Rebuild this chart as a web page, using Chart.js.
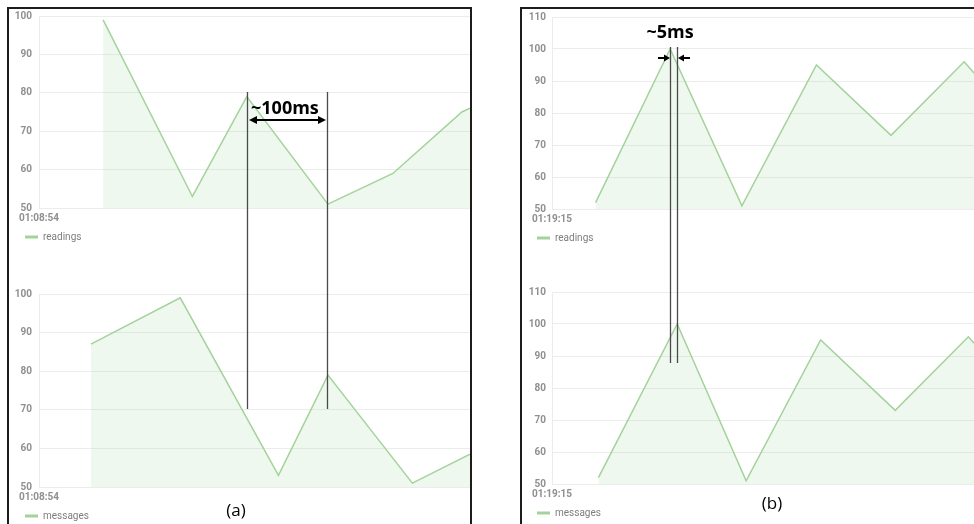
<!DOCTYPE html>
<html>
<head>
<meta charset="utf-8">
<script src="https://cdn.jsdelivr.net/npm/chart.js@4.4.1/dist/chart.umd.min.js"></script>
<style>
  body { margin: 0; background: #fff; width: 974px; height: 524px; position: relative; overflow: hidden; }
  canvas { position: absolute; }
  .panel { position: absolute; border: 2px solid #1c1c1c; border-bottom: none; }
  svg { position: absolute; left: 0; top: 0; }
</style>
</head>
<body>
<canvas id="readingsA" width="458" height="249" style="left:12px;top:3px"></canvas>
<canvas id="messagesA" width="458" height="250" style="left:12px;top:281px"></canvas>
<canvas id="readingsB" width="448" height="248" style="left:526px;top:5px"></canvas>
<canvas id="messagesB" width="448" height="248" style="left:526px;top:280px"></canvas>
<div class="panel" style="left:7px;top:7px;width:461px;height:530px"></div>
<div class="panel" style="left:520px;top:7px;width:470px;height:530px"></div>

<svg width="974" height="524">
  <g stroke="#4a4a4a" stroke-width="1.3">
    <line x1="247.5" y1="92" x2="247.5" y2="409"/>
    <line x1="327.5" y1="92" x2="327.5" y2="409"/>
    <line x1="670.5" y1="47" x2="670.5" y2="363"/>
    <line x1="677.5" y1="47" x2="677.5" y2="363"/>
  </g>
  <g stroke="#000" stroke-width="2">
    <line x1="254" y1="120" x2="321" y2="120"/>
    <line x1="658" y1="58" x2="665" y2="58"/>
    <line x1="683" y1="58" x2="690" y2="58"/>
  </g>
  <g fill="#000">
    <polygon points="249,120 257,116 257,124"/>
    <polygon points="326,120 318,116 318,124"/>
    <polygon points="670,58 664,54.5 664,61.5"/>
    <polygon points="678,58 684,54.5 684,61.5"/>
  </g>
  <g font-family="'Open Sans', sans-serif" fill="#000">
    <text x="251" y="114" font-size="18" font-weight="bold">~100ms</text>
    <text x="670" y="38" font-size="18" font-weight="bold" text-anchor="middle">~5ms</text>
    <text x="236" y="516" font-size="17" text-anchor="middle">(a)</text>
    <text x="772" y="509" font-size="17" text-anchor="middle">(b)</text>
  </g>
</svg>

<script>
  // x = ms after the first tick label, y = value
  const startLabels = ['01:08:54', '01:19:15'];

  const readingsA_t = [79, 189, 256, 356, 436, 521, 531];
  const readingsA_v = [99, 53, 79, 51, 59, 75, 76];
  const messagesA_t = [64, 174, 295, 356, 460, 531];
  const messagesA_v = [87, 99, 53, 79, 51, 58.5];

  const readingsB_t = [31, 84, 135, 188, 241, 293, 300];
  const readingsB_v = [52, 100, 51, 95, 73, 96, 92.5];
  const messagesB_t = [33, 89, 138, 191, 244, 296, 300];
  const messagesB_v = [52, 100, 51, 95, 73, 96, 94];

  const lineColor = '#a3d39b';
  const fillColor = 'rgba(163, 211, 155, 0.17)';
  const tickColor = '#8f8f8f';
  const gridColor = '#ececec';

  // legend sits a bit right of the y labels, move it after layout
  const legendNudge = {
    id: 'legendNudge',
    afterLayout(chart, args, opts) { chart.legend.left += opts.dx || 0; }
  };

  function makeChart(id, label, times, values, yMax, tMax, axisW, tickPad, legendDx, startLabel) {
    const ctx = document.getElementById(id).getContext('2d');
    new Chart(ctx, {
      type: 'line',
      data: {
        datasets: [{
          label: label,
          data: times.map((t, i) => ({ x: t, y: values[i] })),
          borderColor: lineColor,
          backgroundColor: fillColor,
          borderWidth: 1.5,
          pointRadius: 0,
          tension: 0,
          fill: 'start'
        }]
      },
      plugins: [legendNudge],
      options: {
        responsive: false,
        animation: false,
        layout: { padding: { top: 7, left: 0, right: 0, bottom: 0 } },
        scales: {
          x: {
            type: 'linear',
            min: 0,
            max: tMax,
            grid: { display: false, drawTicks: false },
            border: { display: false },
            afterBuildTicks: scale => { scale.ticks = [{ value: 0 }]; },
            ticks: {
              padding: 5,
              maxRotation: 0,
              color: tickColor,
              font: { family: 'Roboto', size: 10, weight: 'bold', lineHeight: 1 },
              callback: () => startLabel
            }
          },
          y: {
            min: 50,
            max: yMax,
            afterFit: scale => { scale.width = axisW; },
            grid: { color: gridColor, drawTicks: false },
            border: { color: gridColor },
            ticks: {
              stepSize: 10,
              padding: tickPad,
              color: tickColor,
              font: { family: 'Roboto', size: 10, weight: 'bold' }
            }
          }
        },
        plugins: {
          legendNudge: { dx: legendDx },
          legend: {
            position: 'bottom',
            align: 'start',
            labels: {
              boxWidth: 13,
              boxHeight: 3,
              padding: 4,
              color: '#7d7d7d',
              font: { family: 'Roboto', size: 10 },
              generateLabels: chart => Chart.defaults.plugins.legend.labels.generateLabels(chart)
                .map(item => Object.assign(item, { fillStyle: lineColor, strokeStyle: lineColor, lineWidth: 0 }))
            }
          },
          tooltip: { enabled: false }
        }
      }
    });
  }

  makeChart('readingsA', 'readings', readingsA_t, readingsA_v, 100, 531, 27, 7, 9, startLabels[0]);
  makeChart('messagesA', 'messages', messagesA_t, messagesA_v, 100, 531, 27, 7, 9, startLabels[0]);
  makeChart('readingsB', 'readings', readingsB_t, readingsB_v, 110, 300, 26, 6, 7, startLabels[1]);
  makeChart('messagesB', 'messages', messagesB_t, messagesB_v, 110, 300, 26, 6, 7, startLabels[1]);
</script>
</body>
</html>
